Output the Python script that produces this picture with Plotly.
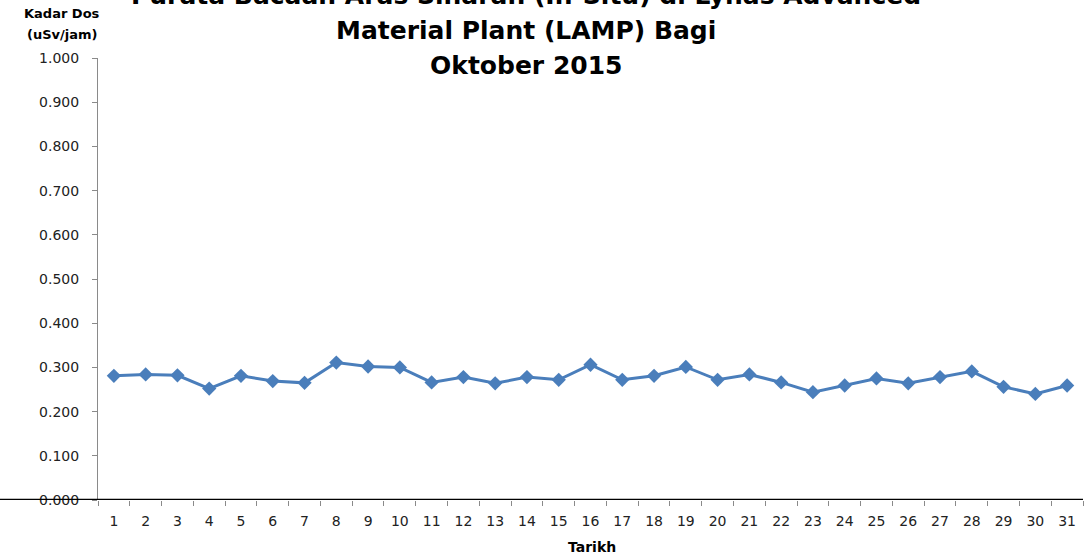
import plotly.graph_objects as go

# ---- data ----
days = [str(d) for d in range(1, 32)]
dose = [0.281, 0.284, 0.282, 0.252, 0.281, 0.269, 0.265, 0.311, 0.302, 0.300,
        0.266, 0.278, 0.264, 0.278, 0.272, 0.306, 0.272, 0.281, 0.301, 0.272,
        0.284, 0.266, 0.244, 0.259, 0.275, 0.264, 0.278, 0.291, 0.256, 0.240,
        0.259]
y_ticks = [0.0, 0.1, 0.2, 0.3, 0.4, 0.5, 0.6, 0.7, 0.8, 0.9, 1.0]
title_lines = ["Purata Bacaan Aras Sinaran (In-Situ) di Lynas Advanced",
               "Material Plant (LAMP) Bagi",
               "Oktober 2015"]
y_title_lines = ["Kadar Dos", "(uSv/jam)"]
x_title = "Tarikh"

W, H = 1092, 556
ML, MR, MT, MB = 98, 9, 58, 56
PW, PH = W - ML - MR, H - MT - MB


def px(x):
    return (x - ML) / PW


def py(y):
    return (H - MB - y) / PH


fig = go.Figure()
fig.add_trace(go.Scatter(
    x=days, y=dose, mode="lines+markers",
    line=dict(color="#4A7EBB", width=3),
    marker=dict(symbol="diamond", size=11, color="#4A7EBB"),
    cliponaxis=False, showlegend=False,
))

fig.update_layout(
    width=W, height=H,
    margin=dict(l=ML, r=MR, t=MT, b=MB, autoexpand=False),
    paper_bgcolor="white", plot_bgcolor="white",
    font=dict(family="DejaVu Sans", color="#222222"),
    xaxis=dict(
        type="category", tickson="boundaries", ticks="outside", ticklen=5,
        tickcolor="#8a8a8a", showgrid=False, showline=False, zeroline=False,
        tickfont=dict(size=14, color="#222222"), ticklabelstandoff=11,
        range=[-0.5, 30.5], automargin=False,
    ),
    yaxis=dict(
        range=[0, 1], tickvals=y_ticks, tickformat=".3f", ticks="outside",
        ticklen=5, tickcolor="#8a8a8a", showline=True, linecolor="#8a8a8a",
        linewidth=1, showgrid=False, zeroline=False,
        tickfont=dict(size=14, color="#222222"), ticklabelstandoff=10,
        automargin=False,
    ),
)

# black baseline extending left across the label area
fig.add_shape(type="line", xref="paper", yref="y", x0=-0.12, x1=1.0, y0=0, y1=0,
              line=dict(color="black", width=2.5), layer="above")

ann = []
for txt, ypx in zip(title_lines, [-5, 30, 65]):
    ann.append(dict(text="<b>%s</b>" % txt, x=px(526), y=py(ypx), xref="paper", yref="paper",
                    xanchor="center", yanchor="middle", showarrow=False,
                    font=dict(family="DejaVu Sans", size=25, color="black")))
for txt, ypx in zip(y_title_lines, [14, 35]):
    ann.append(dict(text="<b>%s</b>" % txt, x=px(62), y=py(ypx), xref="paper", yref="paper",
                    xanchor="center", yanchor="middle", showarrow=False,
                    font=dict(family="DejaVu Sans", size=13, color="black")))
ann.append(dict(text="<b>%s</b>" % x_title, x=px(592), y=py(547), xref="paper", yref="paper",
                xanchor="center", yanchor="middle", showarrow=False,
                font=dict(family="DejaVu Sans", size=14, color="black")))
fig.update_layout(annotations=ann)

fig.write_html("out.html", config={"displayModeBar": False},
               post_script="document.body.style.margin='0';document.body.style.overflow='hidden';")
